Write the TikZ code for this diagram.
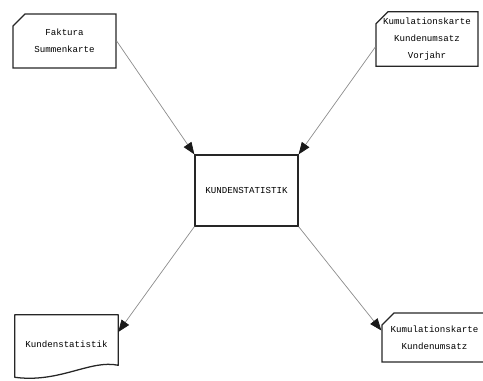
\documentclass[tikz,border=0pt]{standalone}
\usepackage{fontspec}
\setmonofont{Liberation Mono}
\usetikzlibrary{arrows.meta,shapes.misc,calc}

\begin{document}
\begin{tikzpicture}[x=0.025cm, y=-0.025cm,
  card/.style={draw=black!85, line width=0.9pt, chamfered rectangle, chamfered rectangle corners=north west,
    chamfered rectangle xsep=1.5mm, chamfered rectangle ysep=1.5mm, inner sep=0pt,
    font=\ttfamily\fontsize{6.5}{12}\selectfont, align=center},
  proc/.style={draw=black!85, line width=0.9pt, rectangle, inner sep=0pt, font=\ttfamily\fontsize{6.5}{12}\selectfont},
  docu/.style={rectangle, inner sep=0pt, font=\ttfamily\fontsize{6.5}{12}\selectfont},
  outline/.style={draw=black!85, line width=0.9pt, line join=round},
  link/.style={-{Triangle[length=3mm, width=2.3mm, color=black!90]}, draw=black!45, line width=0.5pt}
]
\useasboundingbox (0,0) rectangle (483,381);

% Input cards
\node[card, minimum width=2.575cm, minimum height=1.35cm] (fak) at (64.5, 41) {Faktura\\Summenkarte};
\node[card, minimum width=2.55cm, minimum height=1.3cm] (kum) at (427, 39) {Kumulationskarte\\Kundenumsatz\\Vorjahr};

% Program box
\node[proc, minimum width=2.575cm, minimum height=1.775cm] (kern) at (246.5, 190.5) {KUNDENSTATISTIK};

% Output list (document with wavy bottom)
\node[docu, minimum width=2.575cm, minimum height=1.45cm] (stat) at (66.5, 344) {Kundenstatistik};
\draw[outline] (stat.north west) -- (stat.north east) -- ($(stat.south east)+(0,-8)$)
  .. controls ($(stat.south east)+(-28,-14)$) and ($(stat.south west)+(45,10)$) .. ($(stat.south west)+(0,4)$)
  -- cycle;

% Output card
\node[card, minimum width=2.625cm, minimum height=1.225cm] (neu) at (434.5, 337.5) {Kumulationskarte\\Kundenumsatz};

% Data flow
\draw[link] (fak.east) -- (kern.north west);
\draw[link] ($(kum.west)+(0,8)$) -- (kern.north east);
\draw[link] (kern.south west) -- ($(stat.east)+(0,-12)$);
\draw[link] (kern.south east) -- ($(neu.west)+(0,-7)$);

\end{tikzpicture}
\end{document}
